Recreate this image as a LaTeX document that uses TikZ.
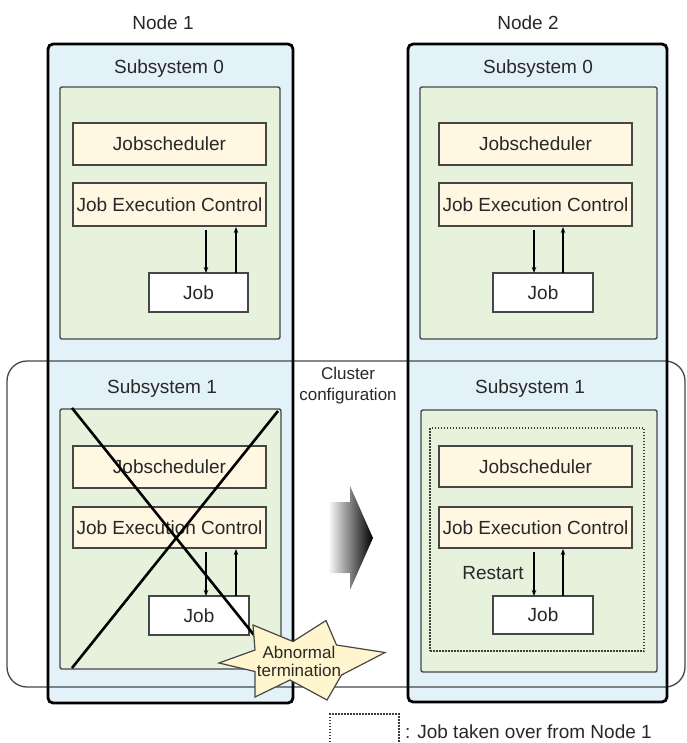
\documentclass[tikz,border=0pt]{standalone}
\usepackage{fontspec}
\setmainfont{Liberation Sans}
\usetikzlibrary{arrows.meta}
\definecolor{nodeblue}{RGB}{227,241,249}
\definecolor{subgreen}{RGB}{230,242,220}
\definecolor{boxyellow}{RGB}{255,247,225}
\definecolor{edgegray}{RGB}{70,70,70}
\definecolor{dotgray}{RGB}{60,60,60}
\definecolor{txtgray}{RGB}{40,40,40}
\definecolor{staryellow}{RGB}{255,245,206}
\begin{document}
\begin{tikzpicture}[x=1pt,y=-1pt,
  every node/.style={inner sep=0pt, outer sep=0pt, text=txtgray, font=\fontsize{19}{22}\selectfont},
  hostfill/.style={fill=nodeblue, rounded corners=5pt, rectangle},
  hostline/.style={draw=black, line width=2.8pt, rounded corners=5pt, rectangle},
  subbox/.style={draw=edgegray, line width=1.4pt, fill=subgreen, rounded corners=2pt, rectangle},
  compbox/.style={draw=edgegray, line width=1.6pt, fill=boxyellow, rectangle, minimum width=193pt},
  jobbox/.style={draw=edgegray, line width=1.6pt, fill=white, rectangle, minimum height=39pt},
  dotbox/.style={draw=dotgray, line width=1.6pt, dash pattern=on 1.5pt off 1.5pt, rectangle},
  arr/.style={-{Stealth[length=6pt,width=4.5pt]}, line width=1.2pt, draw=black},
  smalltext/.style={font=\fontsize{17}{21}\selectfont, align=center}
]
\useasboundingbox (0,0) rectangle (686,743);
\fill[white] (0,0) rectangle (686,743);

% host nodes (fill)
\node[hostfill, minimum width=245pt, minimum height=659pt] (host1) at (170.5,373.5) {};
\node[hostfill, minimum width=259pt, minimum height=658pt] (host2) at (537.5,373) {};

% cluster configuration frame
\draw[draw=edgegray, line width=1.3pt, rounded corners=20pt] (7,361) rectangle (685,687);

% host borders
\node[hostline, minimum width=245pt, minimum height=659pt] (host1b) at (170.5,373.5) {};
\node[hostline, minimum width=259pt, minimum height=658pt] (host2b) at (537.5,373) {};

% labels
\node (n1lab) at (163,23) {Node 1};
\node (n2lab) at (528,23) {Node 2};
\node (s10lab) at (169,69) {Subsystem 0};
\node (s20lab) at (538,69) {Subsystem 0};
\node (s11lab) at (162,389) {Subsystem 1};
\node (s21lab) at (530,389) {Subsystem 1};
\node[smalltext] (clab) at (348,386) {Cluster\\configuration};

% subsystem boxes
\node[subbox, minimum width=220pt, minimum height=252pt] (g10) at (170,213) {};
\node[subbox, minimum width=221pt, minimum height=260pt] (g11) at (170.5,539) {};
\node[subbox, minimum width=237pt, minimum height=252pt] (g20) at (538.5,213) {};
\node[subbox, minimum width=236pt, minimum height=262pt] (g21) at (539,541) {};

% takeover frame
\node[dotbox, minimum width=214pt, minimum height=223pt] (take) at (537,539.5) {};

% Node 1 subsystem 0
\node[compbox, minimum height=42pt] (js10) at (169.5,144) {Jobscheduler};
\node[compbox, minimum height=43pt] (jec10) at (169.5,204.5) {Job Execution Control};
\node[jobbox, minimum width=99pt] (job10) at (198.5,292.5) {Job};
% Node 1 subsystem 1
\node[compbox, minimum height=42pt] (js11) at (169.5,467) {Jobscheduler};
\node[compbox, minimum height=41pt] (jec11) at (169.5,527.5) {Job Execution Control};
\node[jobbox, minimum width=100pt] (job11) at (199,615.5) {Job};
% Node 2 subsystem 0
\node[compbox, minimum height=42pt] (js20) at (535.5,144) {Jobscheduler};
\node[compbox, minimum height=43pt] (jec20) at (535.5,204.5) {Job Execution Control};
\node[jobbox, minimum width=100pt] (job20) at (543,292.5) {Job};
% Node 2 subsystem 1
\node[compbox, minimum height=41pt] (js21) at (535.5,466.5) {Jobscheduler};
\node[compbox, minimum height=41pt] (jec21) at (535.5,527.5) {Job Execution Control};
\node[jobbox, minimum width=100pt, minimum height=38pt] (job21) at (543,615) {Job};
\node (restart) at (493,573) {Restart};

% arrow columns
\coordinate (d1) at (206,0);
\coordinate (u1) at (236,0);
\coordinate (d2) at (534,0);
\coordinate (u2) at (563,0);

\draw[arr, shorten <=4pt] (jec10.south -| d1) -- (job10.north -| d1);
\draw[arr, shorten >=1pt] (job10.north -| u1) -- (jec10.south -| u1);
\draw[arr, shorten <=4pt] (jec11.south -| d1) -- (job11.north -| d1);
\draw[arr, shorten >=1pt] (job11.north -| u1) -- (jec11.south -| u1);
\draw[arr, shorten <=4pt] (jec20.south -| d2) -- (job20.north -| d2);
\draw[arr, shorten >=1pt] (job20.north -| u2) -- (jec20.south -| u2);
\draw[arr, shorten <=4pt] (jec21.south -| d2) -- (job21.north -| d2);
\draw[arr, shorten >=1pt] (job21.north -| u2) -- (jec21.south -| u2);

% failure cross
\draw[black, line width=2.6pt] (72,408) -- (262,645);
\draw[black, line width=2.6pt] (72,668) -- (278,411);

% abnormal termination burst
\draw[draw=edgegray, line width=1.2pt, fill=staryellow, line join=miter]
  (253,625) -- (293,641.5) -- (326,620.5) -- (336.5,645) -- (385,652.5) -- (341.5,675)
  -- (327,700) -- (290,680) -- (255,697) -- (255,671.5) -- (219,663) -- (255,650) -- cycle;
\node[smalltext, font=\fontsize{17}{18}\selectfont] (abn) at (299,661) {Abnormal\\termination};

% transition arrow
\shade[left color=white, right color=black]
  (328,502) -- (350,502) -- (350,486) -- (373,538) -- (350,590) -- (350,573) -- (328,573) -- cycle;

% legend
\draw[draw=dotgray, line width=1.6pt, dash pattern=on 1.5pt off 1.5pt] (330,745) -- (330,714) -- (399,714) -- (399,745);
\node[anchor=west] (legend) at (405,732) {: Job taken over from Node 1};
\end{tikzpicture}
\end{document}
